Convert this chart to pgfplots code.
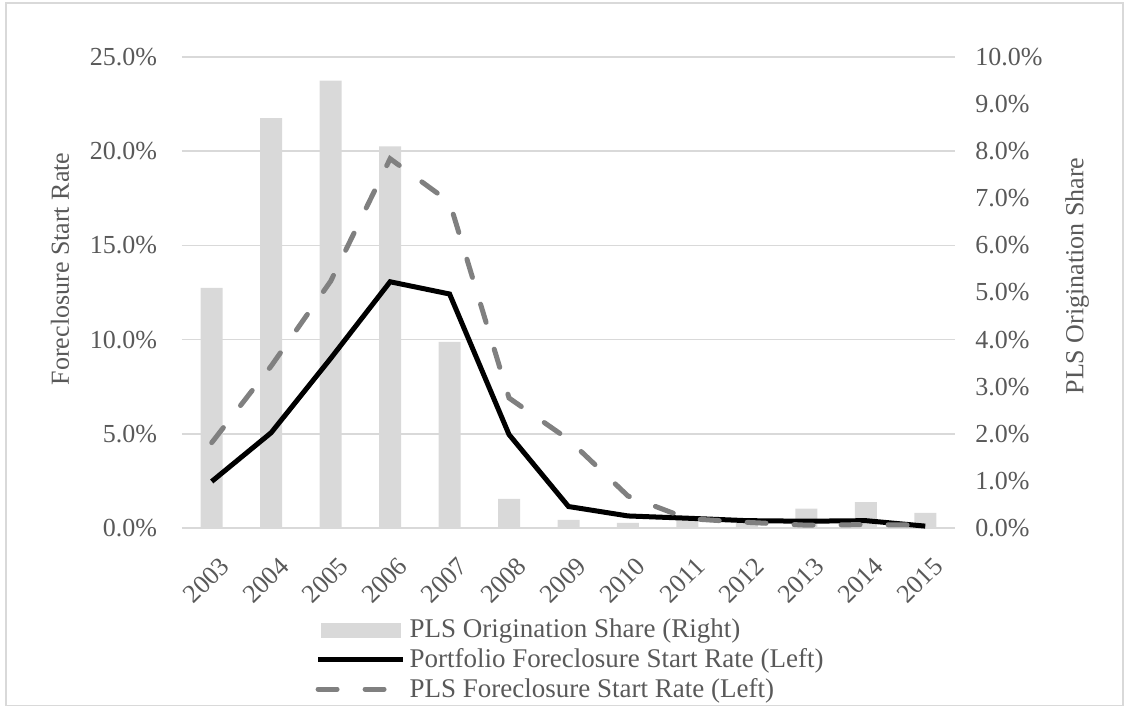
\documentclass[border=0pt]{standalone}
\usepackage{fontspec}
\setmainfont{Liberation Serif}
\usepackage{pgfplots}
\pgfplotsset{compat=1.18}
\definecolor{txt}{HTML}{595959}
\definecolor{gridc}{HTML}{D9D9D9}
\definecolor{barc}{HTML}{D9D9D9}
\definecolor{dashc}{HTML}{808080}
\pgfplotsset{
  base/.style={
    width=386.5pt, height=235.5pt, scale only axis,
    xmin=-0.5, xmax=12.5,
    at={(0,0)}, anchor=south west,
    /pgf/number format/assume math mode=true,
    font=\fontsize{13}{15}\selectfont,
    every tick label/.append style={text=txt, font=\fontsize{13}{15}\selectfont},
    label style={text=txt, font=\fontsize{13}{15}\selectfont},
    major tick length=0pt, minor tick length=0pt,
    tick style={draw=none},
  }
}
\begin{document}
\begin{tikzpicture}
% axis A: grid, left labels, x labels
\begin{axis}[base,
  ymin=0, ymax=25, ytick={0,5,...,25},
  yticklabel={\pgfmathprintnumber[fixed,fixed zerofill,precision=1]{\tick}\%},
  yticklabel style={xshift=-9pt},
  ymajorgrids, grid style={draw=gridc, line width=0.75pt},
  xtick={0,1,2,3,4,5,6,7,8,9,10,11,12},
  xticklabels={2003,2004,2005,2006,2007,2008,2009,2010,2011,2012,2013,2014,2015},
  xticklabel style={xshift=9pt, yshift=-14.5pt, rotate=45, anchor=east},
  axis line style={draw=none},
  ylabel={Foreclosure Start Rate},
  ylabel style={at={(axis description cs:-0.158,0.55)}, anchor=center},
]
\addplot[draw=none, forget plot] coordinates {(0,0)};
\end{axis}
% axis B: bars, right axis
\begin{axis}[base,
  ymin=0, ymax=10, ytick={0,1,...,10},
  axis x line*=bottom, axis y line*=right,
  x axis line style={draw=gridc, line width=1pt, -},
  y axis line style={draw=none},
  xtick=\empty,
  yticklabel={\pgfmathprintnumber[fixed,fixed zerofill,precision=1]{\tick}\%},
  yticklabel style={anchor=west, xshift=6.7pt},
  ylabel={PLS Origination Share},
  ylabel style={at={(axis description cs:1.158,0.535)}, anchor=center},
]
\addplot[ybar, bar width=11pt, fill=barc, draw=none] coordinates {
  (0,5.10) (1,8.70) (2,9.50) (3,8.10) (4,3.95) (5,0.62) (6,0.17)
  (7,0.11) (8,0.24) (9,0.20) (10,0.41) (11,0.55) (12,0.32)};
\end{axis}
% axis C: lines + legend
\begin{axis}[base,
  ymin=0, ymax=25, hide axis,
  legend style={at={(axis description cs:0.1645,-0.18)}, anchor=north west,
    draw=none, fill=none, text=txt, font=\fontsize{13.5}{15}\selectfont,
    row sep=1.8pt, /tikz/column sep=1pt,
    nodes={inner sep=1pt}},
  legend cell align=left,
  legend image code/.code={\draw[#1] (0pt,0pt) -- (42.5pt,0pt);},
]
\addlegendimage{legend image code/.code={\fill[barc] (1.5pt,-3.5pt) rectangle (41pt,3.5pt);}}
\addlegendentry{PLS Origination Share (Right)}
\addplot[black, line width=2.5pt] coordinates {
  (0,2.47) (1,5.06) (2,9.0) (3,13.07) (4,12.42) (5,4.96) (6,1.14)
  (7,0.64) (8,0.52) (9,0.39) (10,0.36) (11,0.39) (12,0.10)};
\addlegendentry{Portfolio Foreclosure Start Rate (Left)}
\addplot[dashc, line width=2.5pt, dash pattern=on 9.5pt off 14pt, line cap=round] coordinates {
  (0,4.53) (1,8.6) (2,13.1) (3,19.6) (4,17.3) (5,6.9) (6,4.7)
  (7,1.7) (8,0.5) (9,0.3) (10,0.15) (11,0.18) (12,0.15)};
\addlegendentry{PLS Foreclosure Start Rate (Left)}
\end{axis}
\draw[draw=gridc, line width=0.75pt] (-88pt,-88.75pt) rectangle (470.5pt,262.5pt);
\pgfresetboundingbox
\path[use as bounding box] (-91pt,-89pt) rectangle (471pt,264pt);
\end{tikzpicture}
\end{document}
